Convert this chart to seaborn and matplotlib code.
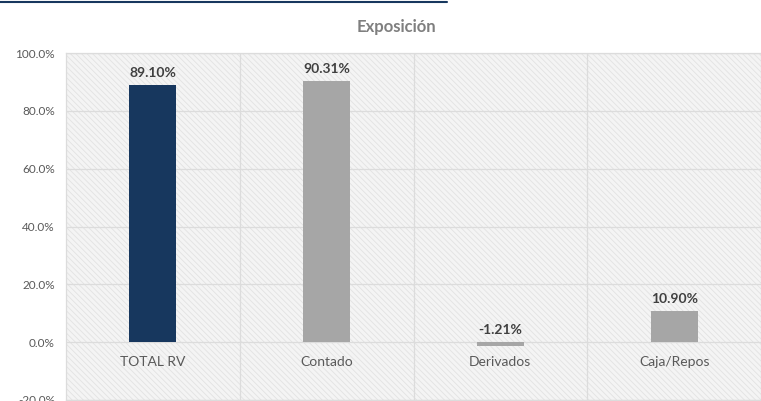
import numpy as np
import pandas as pd
import matplotlib
matplotlib.use("Agg")
import matplotlib.pyplot as plt
from matplotlib.patches import Rectangle
import seaborn as sns

categories = ["TOTAL RV", "Contado", "Derivados", "Caja/Repos"]
values = [89.10, 90.31, -1.21, 10.90]
bar_colors = ["#17375e", "#a6a6a6", "#a6a6a6", "#a6a6a6"]
yticks = [-20, 0, 20, 40, 60, 80, 100]

sns.set_theme(style="white")
plt.rcParams["font.family"] = ["Lato", "DejaVu Sans"]
plt.rcParams["hatch.linewidth"] = 0.6

df = pd.DataFrame({"cat": categories, "val": values})

fig = plt.figure(figsize=(7.61, 4.01), dpi=100)
ax = fig.add_axes([66 / 761, 1 / 401, 695 / 761, 347 / 401])

# hatched background like the excel plot area
ax.set_facecolor("#f4f4f4")
ax.add_patch(Rectangle((0, 0), 1, 1, transform=ax.transAxes, facecolor="none",
                       edgecolor="#e2e2e2", hatch="\\\\\\\\\\\\", lw=0, zorder=0))

sns.barplot(data=df, x="cat", y="val", hue="cat", palette=bar_colors,
            width=0.27, legend=False, ax=ax, zorder=3, saturation=1, linewidth=0)

ax.set_ylim(-20, 100)
ax.set_xlim(-0.5, 3.5)
ax.set_yticks(yticks)
ax.set_yticklabels([f"{t:.1f}%" for t in yticks], fontsize=8.5, color="#595959")
ax.set_xticks([])
ax.set_xticks([0.5, 1.5, 2.5], minor=True)
ax.tick_params(axis="x", which="both", length=0, labelbottom=False)
ax.tick_params(axis="y", length=0, pad=8)
ax.grid(axis="y", color="#dcdcdc", lw=0.9, zorder=1)
ax.grid(axis="x", which="minor", color="#dcdcdc", lw=0.9, zorder=1)
ax.set_xlabel("")
ax.set_ylabel("")
for s in ax.spines.values():
    s.set_color("#dcdcdc")
    s.set_linewidth(0.9)

for i, (c, v) in enumerate(zip(categories, values)):
    ax.text(i, -7, c, ha="center", va="center", fontsize=10, color="#595959")
    ax.text(i, max(v, 0) + 2, f"{v:.2f}%", ha="center", va="bottom",
            fontsize=10, fontweight="bold", color="#404040")

fig.text(396 / 761, 1 - 27 / 401, "Exposición", ha="center", va="center",
         fontsize=12, fontweight="bold", color="#7f7f7f")

# dark header rule at the top left
fig.add_artist(plt.Line2D([0, 447 / 761], [1 - 1.5 / 401, 1 - 1.5 / 401],
                          transform=fig.transFigure, color="#17375e", lw=1.5))

fig.savefig("out.png", dpi=100)
